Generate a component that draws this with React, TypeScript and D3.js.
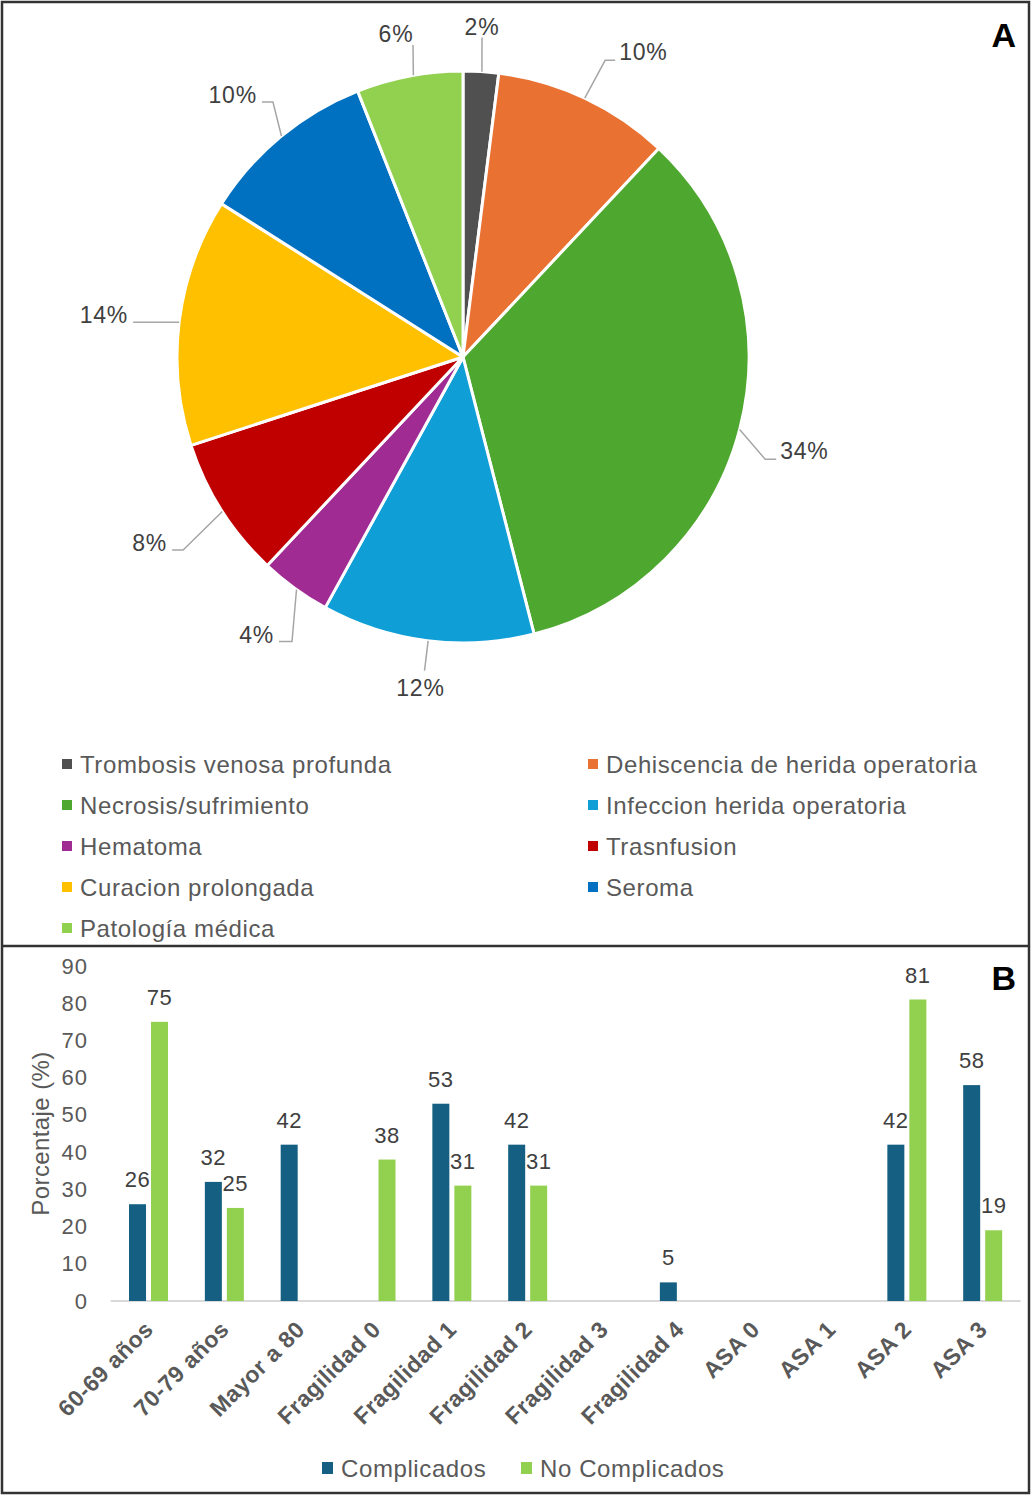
import * as d3 from 'd3';

const W = 1031, H = 1495;
const FONT = "'Liberation Sans', Arial, sans-serif";

/* Panel A data */
const complications = [
  'Trombosis venosa profunda',
  'Dehiscencia de herida operatoria',
  'Necrosis/sufrimiento',
  'Infeccion herida operatoria',
  'Hematoma',
  'Trasnfusion',
  'Curacion prolongada',
  'Seroma',
  'Patología médica',
];
const complicationPct = [2, 10, 34, 12, 4, 8, 14, 10, 6];
const pieColors = ['#505050', '#E97132', '#4EA72E', '#0F9ED5', '#A02B93', '#C00000', '#FFC000', '#0070C0', '#92D050'];

/* Panel B data */
const groups = ['60-69 años', '70-79 años', 'Mayor a 80', 'Fragilidad 0', 'Fragilidad 1', 'Fragilidad 2',
  'Fragilidad 3', 'Fragilidad 4', 'ASA 0', 'ASA 1', 'ASA 2', 'ASA 3'];
const complicados = [26, 32, 42, null, 53, 42, null, 5, null, null, 42, 58];
const noComplicados = [75, 25, null, 38, 31, 31, null, null, null, null, 81, 19];
const seriesNames = ['Complicados', 'No Complicados'];
const seriesColors = ['#156082', '#92D050'];
const yTicks = [0, 10, 20, 30, 40, 50, 60, 70, 80, 90];

// leader line placement (degrees clockwise from top): start on edge, elbow, tail
const labelLayout = [
  { a0: 3.8, a1: 3.4, r1: 320, dir: 'up', tail: 0, dx: 0 },
  { a0: 25.2, a1: 25.6, r1: 329, dir: 'right', tail: 10, dx: 0 },
  { a0: 104.7, a1: 108.7, r1: 319, dir: 'right', tail: 11, dx: 0 },
  { a0: 187, a1: 187, r1: 316, dir: 'down', tail: 0, dx: -4 },
  { a0: 215.6, a1: 211, r1: 332, dir: 'left', tail: 13, dx: 0 },
  { a0: 237.3, a1: 235.4, r1: 340, dir: 'left', tail: 11, dx: 0 },
  { a0: 277, a1: 277, r1: 286, dir: 'left', tail: 46, dx: 0 },
  { a0: 320.6, a1: 323.3, r1: 318, dir: 'left', tail: 11, dx: 0 },
  { a0: 350, a1: 350.9, r1: 316, dir: 'up', tail: 0, dx: -17 },
];

function polar(cx, cy, deg, r) {
  const a = (deg * Math.PI) / 180;
  return [cx + r * Math.sin(a), cy - r * Math.cos(a)];
}

function PiePanel() {
  const cx = 463, cy = 357, r = 286;
  const total = d3.sum(complicationPct);
  const arcs = d3.pie<number>().sort(null).value(d => d)(complicationPct);
  const arc = d3.arc<any>().innerRadius(0).outerRadius(r);

  return (
    <g>
      <g transform={`translate(${cx},${cy})`}>
        {arcs.map((a, i) => (
          <path key={i} d={arc(a)} fill={pieColors[i]} stroke="#fff" strokeWidth={3} strokeLinejoin="round" />
        ))}
      </g>
      {complicationPct.map((v, i) => {
        const L = labelLayout[i];
        const p0 = polar(cx, cy, L.a0, r);
        const p1 = polar(cx, cy, L.a1, L.r1);
        const sgn = L.dir === 'left' ? -1 : L.dir === 'right' ? 1 : 0;
        const p2 = [p1[0] + sgn * L.tail, p1[1]];
        const txt = Math.round((v / total) * 100) + '%';
        let tx = p2[0], ty = p2[1], anchor = 'middle', base = 'auto';
        if (L.dir === 'up') { tx = p1[0] + L.dx; ty = p1[1] - 3; }
        else if (L.dir === 'down') { tx = p1[0] + L.dx; ty = p1[1] + 25; }
        else if (L.dir === 'right') { tx = p2[0] + 4; ty = p2[1] - 8; anchor = 'start'; base = 'central'; }
        else { tx = p2[0] - 5; ty = p2[1] - 7; anchor = 'end'; base = 'central'; }
        return (
          <g key={i}>
            <polyline points={[p0, p1, p2].map(p => p.join(',')).join(' ')} fill="none" stroke="#A6A6A6" strokeWidth={1.5} />
            <text x={tx} y={ty} textAnchor={anchor} dominantBaseline={base} fontSize={23} letterSpacing={0.8} fill="#404040">{txt}</text>
          </g>
        );
      })}
      {complications.map((name, i) => {
        const col = i % 2, row = Math.floor(i / 2);
        const mx = col === 0 ? 62 : 588;
        const y = 764 + row * 41;
        return (
          <g key={name}>
            <rect x={mx} y={y - 5} width={10} height={10} fill={pieColors[i]} />
            <text x={mx + 18} y={y} dominantBaseline="central" fontSize={24} letterSpacing={0.6} fill="#595959">{name}</text>
          </g>
        );
      })}
      <text x={1016} y={35} textAnchor="end" dominantBaseline="central" fontSize={34} fontWeight="bold" fill="#000">A</text>
    </g>
  );
}

function BarPanel() {
  const y = d3.scaleLinear().domain([0, 90]).range([1301, 966]);
  const x0 = d3.scaleBand().domain(groups).range([110.6, 1020.6]).paddingInner(0).paddingOuter(0);
  const inner = 39;
  const x1 = d3.scaleBand().domain(seriesNames).range([0, inner]).paddingInner(5 / 22).paddingOuter(0);
  const series = [complicados, noComplicados];

  return (
    <g>
      {yTicks.map(t => (
        <text key={t} x={88} y={y(t)} textAnchor="end" dominantBaseline="central" fontSize={22} letterSpacing={1} fill="#595959">{t}</text>
      ))}
      <text transform={`translate(40,${(y(0) + y(90)) / 2}) rotate(-90)`} textAnchor="middle" dominantBaseline="central" fontSize={24} letterSpacing={0.4} fill="#595959">Porcentaje (%)</text>
      <line x1={110.6} x2={1020.6} y1={y(0)} y2={y(0)} stroke="#D9D9D9" strokeWidth={2} />
      {groups.map((g, gi) => {
        const gx = x0(g) + (x0.bandwidth() - inner) / 2;
        return (
          <g key={g}>
            {series.map((s, si) => {
              const v = s[gi];
              if (v == null) return null;
              const bx = gx + x1(seriesNames[si]);
              return (
                <g key={si}>
                  <rect x={bx} y={y(v)} width={x1.bandwidth()} height={y(0) - y(v)} fill={seriesColors[si]} />
                  <text x={bx + x1.bandwidth() / 2} y={y(v) - 17} textAnchor="middle" fontSize={22} letterSpacing={0.5} fill="#404040">{v}</text>
                </g>
              );
            })}
            <text transform={`translate(${x0(g) + x0.bandwidth() / 2 + 6},1331) rotate(-45)`} textAnchor="end" fontSize={23} fontWeight="bold" letterSpacing={0.4} fill="#595959">{g}</text>
          </g>
        );
      })}
      {seriesNames.map((n, i) => {
        const mx = i === 0 ? 322 : 521;
        return (
          <g key={n}>
            <rect x={mx} y={1462} width={11} height={12} fill={seriesColors[i]} />
            <text x={mx + 19} y={1468} dominantBaseline="central" fontSize={24} letterSpacing={0.6} fill="#595959">{n}</text>
          </g>
        );
      })}
      <text x={1016} y={978} textAnchor="end" dominantBaseline="central" fontSize={34} fontWeight="bold" fill="#000">B</text>
    </g>
  );
}

export default function App() {
  return (
    <svg width={W} height={H} viewBox={`0 0 ${W} ${H}`} fontFamily={FONT}
      style={{ position: 'absolute', left: 0, top: 0, background: '#fff' }}>
      <rect x={0} y={0} width={W} height={H} fill="#fff" />
      <PiePanel />
      <BarPanel />
      <rect x={2} y={2} width={W - 4} height={H - 4} fill="none" stroke="#333" strokeWidth={2.5} />
      <line x1={2} x2={W - 2} y1={946} y2={946} stroke="#333" strokeWidth={2.5} />
    </svg>
  );
}
